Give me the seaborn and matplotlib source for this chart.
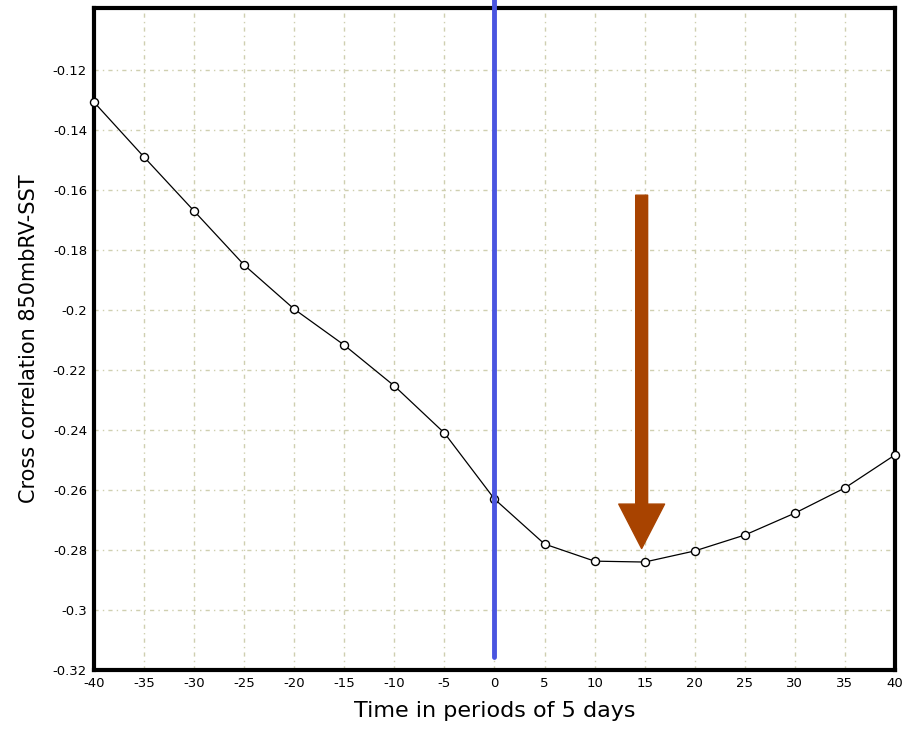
import matplotlib
matplotlib.use("Agg")
import matplotlib.pyplot as plt
import seaborn as sns
import pandas as pd
import numpy as np

# Data
lags = [-40, -35, -30, -25, -20, -15, -10, -5, 0, 5, 10, 15, 20, 25, 30, 35, 40]
corr = [-0.1307, -0.149, -0.167, -0.185, -0.1997, -0.2117, -0.2253, -0.241,
        -0.263, -0.278, -0.2837, -0.284, -0.2803, -0.275, -0.2677, -0.2593, -0.2483]
x_ticks = [-40, -35, -30, -25, -20, -15, -10, -5, 0, 5, 10, 15, 20, 25, 30, 35, 40]
y_ticks = [-0.32, -0.3, -0.28, -0.26, -0.24, -0.22, -0.2, -0.18, -0.16, -0.14, -0.12]
y_tick_labels = ["-0.32", "-0.3", "-0.28", "-0.26", "-0.24", "-0.22", "-0.2",
                 "-0.18", "-0.16", "-0.14", "-0.12"]
arrow_x = 14.7
arrow_top = -0.1617
arrow_tip = -0.2795

df = pd.DataFrame({"lag": lags, "corr": corr})

sns.set_style("white")
fig = plt.figure(figsize=(9.05, 7.35), dpi=100)
ax = fig.add_axes([0.1039, 0.0884, 0.885, 0.9007])

sns.lineplot(data=df, x="lag", y="corr", ax=ax, color="black", linewidth=0.9,
             marker="o", markersize=5.8, markerfacecolor="white",
             markeredgecolor="black", markeredgewidth=1.0, zorder=4, clip_on=False)

ax.set_xlim(-40, 40)
ax.set_ylim(-0.32, -0.0993)
ax.set_xticks(x_ticks)
ax.set_xticklabels([str(v) for v in x_ticks])
ax.set_yticks(y_ticks)
ax.set_yticklabels(y_tick_labels)

ax.grid(True, color="#cfcfb0", linestyle=(0, (3, 3, 1, 3)), linewidth=1.0)
for s in ax.spines.values():
    s.set_linewidth(3)
    s.set_color("black")

ax.tick_params(axis="both", direction="out", length=4, width=1, labelsize=9.5,
               colors="black", pad=1)

ax.set_xlabel("Time in periods of 5 days", fontsize=16, labelpad=8, color="black")
ax.set_ylabel("Cross correlation 850mbRV-SST", fontsize=15, labelpad=10, color="black")

# Blue vertical line at lag 0
ax.axvline(0, ymin=0.0196, ymax=1.02, color="#4a55e0", linewidth=3.5,
           clip_on=False, zorder=5)

# Brown arrow
ax.annotate("", xy=(arrow_x, arrow_tip), xytext=(arrow_x, arrow_top),
            arrowprops=dict(arrowstyle="simple,head_length=3.2,head_width=3.3,tail_width=0.86",
                            color="#a84300", shrinkA=0, shrinkB=0, mutation_scale=10),
            zorder=6)

fig.savefig("out.png", dpi=100)
